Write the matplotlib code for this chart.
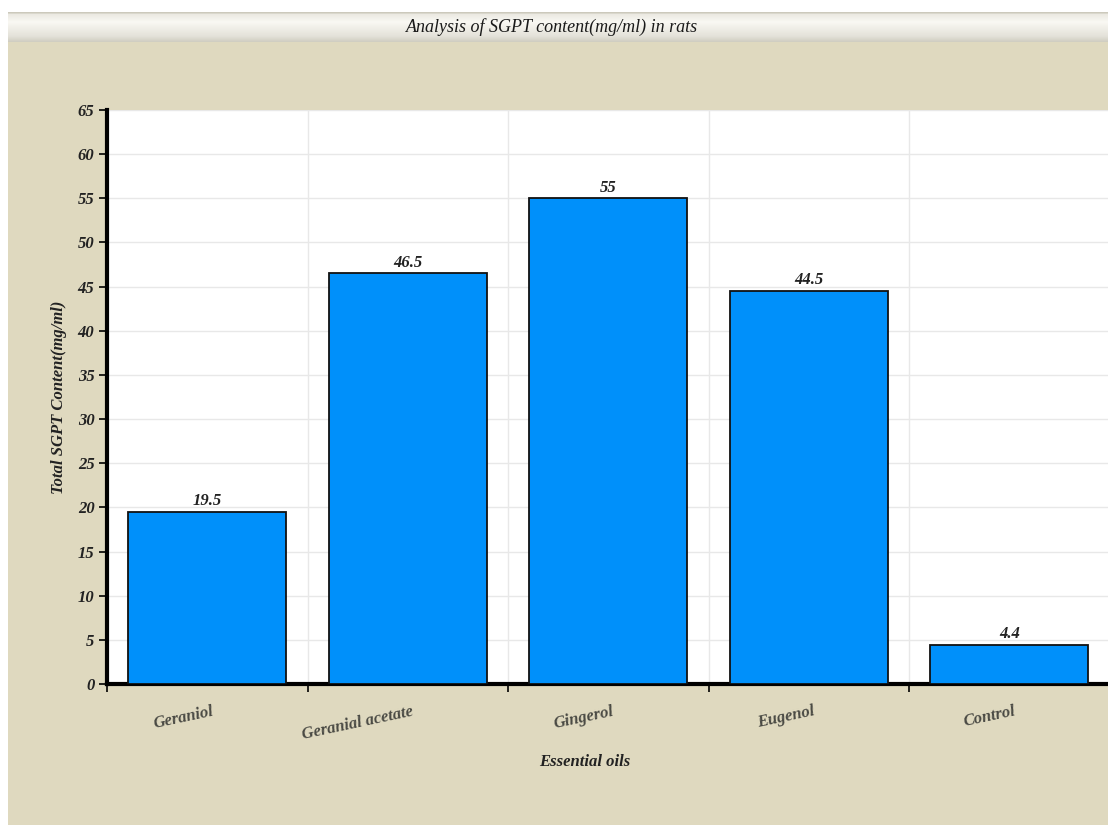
import numpy as np
import matplotlib.pyplot as plt
from matplotlib.patches import Rectangle

# Data
oils = ["Geraniol", "Geranial acetate", "Gingerol", "Eugenol", "Control"]
sgpt = [19.5, 46.5, 55, 44.5, 4.4]
value_labels = ["19.5", "46.5", "55", "44.5", "4.4"]
yticks = list(range(0, 70, 5))

W, H = 1108, 825
fig = plt.figure(figsize=(W / 100, H / 100), dpi=100)
fig.patch.set_facecolor("white")

serif = ["Liberation Serif", "DejaVu Serif"]
panel_color = "#dfd9bf"

# Beige panel behind everything
bg = fig.add_axes([8 / W, 0, 1 - 8 / W, 1 - 12 / H])
bg.set_axis_off()
bg.add_patch(Rectangle((0, 0), 1, 1, transform=bg.transAxes, color=panel_color, zorder=0))

# Gradient title bar
tb = fig.add_axes([8 / W, 1 - 42 / H, 1 - 8 / W, 30 / H])
tb.set_axis_off()
grad = np.concatenate([[0.0, 0.3], np.linspace(0.7, 1.0, 8), np.linspace(1.0, 0.55, 14), np.linspace(0.5, 0.1, 6)])
top = np.array([0.80, 0.79, 0.74])
light = np.array([0.975, 0.97, 0.95])
img = top[None, :] + (light - top)[None, :] * grad[:, None]
tb.imshow(img[:, None, :], aspect="auto", extent=[0, 1, 0, 1])
tb.set_xlim(0, 1)
tb.set_ylim(0, 1)
tb.text(0.495, 0.5, "Analysis of SGPT content(mg/ml) in rats", ha="center", va="center",
        fontsize=13, style="italic", family=serif, color="#1a1a1a")

# Main plot
ax = fig.add_axes([107 / W, 1 - 684 / H, (1109.5 - 107) / W, (684 - 110) / H])
ax.set_facecolor("white")
x = np.arange(len(oils)) + 0.5
bars = ax.bar(x, sgpt, width=0.79, color="#0090fa", edgecolor="#111111", linewidth=1.3, zorder=3)
ax.set_xlim(0, len(oils))
ax.set_ylim(0, 65)
ax.set_yticks(yticks)
ax.set_yticklabels([str(t) for t in yticks], fontsize=12, fontweight="bold", style="italic",
                   family=serif, color="#222222")
ax.set_xticks(np.arange(len(oils)))
ax.set_xticklabels([])
ax.grid(True, color="#e8e8e8", linewidth=1.0, zorder=0)
ax.set_axisbelow(True)

for s in ["top", "right"]:
    ax.spines[s].set_visible(False)
ax.spines["left"].set_linewidth(3)
ax.spines["bottom"].set_linewidth(3)
ax.tick_params(axis="y", length=6, width=1.2, direction="out", pad=3)
ax.tick_params(axis="x", length=6, width=1.2, direction="out")

for xi, v, lab in zip(x, sgpt, value_labels):
    ax.text(xi, v + 0.3, lab, ha="center", va="bottom", fontsize=12, fontweight="bold",
            style="italic", family=serif, color="#222222")

for xi, name in zip(x, oils):
    ax.text(xi + 0.02, -2.2, name, ha="right", va="top", rotation=12, rotation_mode="anchor",
            fontsize=12, style="italic", fontweight="bold", family=serif, color="#4a4a44")

ax.set_ylabel("Total SGPT Content(mg/ml)", fontsize=12, fontweight="bold", style="italic",
              family=serif, color="#222222", labelpad=8)
fig.text(585 / W, 1 - 762 / H, "Essential oils", ha="center", va="center", fontsize=12,
         fontweight="bold", style="italic", family=serif, color="#222222")

fig.savefig("out.png", dpi=100, facecolor=fig.get_facecolor())
